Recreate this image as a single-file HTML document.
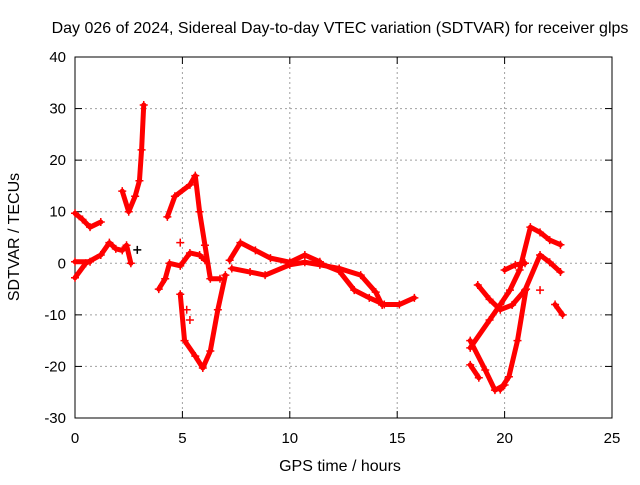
<!DOCTYPE html>
<html><head><meta charset="utf-8"><style>
body{margin:0;background:#fff;font-family:"Liberation Sans",sans-serif}
svg text{font-family:"Liberation Sans",sans-serif;font-size:15px;fill:#000}
svg text.big{font-size:16px}
</style></head><body>
<svg id="c" width="640" height="480" xmlns="http://www.w3.org/2000/svg">
<rect width="640" height="480" fill="#fff"/>
<g id="grid"></g>
<rect x="75" y="57" width="537" height="361" fill="none" stroke="#000" stroke-width="1"/>
<g id="ticks"></g>
<g id="marks"></g>
<text class="big" x="340" y="33" text-anchor="middle">Day 026 of 2024, Sidereal Day-to-day VTEC variation (SDTVAR) for receiver glps</text>
<text class="big" x="340" y="471" text-anchor="middle">GPS time / hours</text>
<text class="big" transform="translate(19,237) rotate(-90)" text-anchor="middle">SDTVAR / TECUs</text>
</svg>
<script>
const xTicks=[0,5,10,15,20,25];
const yTicks=[-30,-20,-10,0,10,20,30,40];
const trackA=[[0,9.7],[0.35,8.5],[0.7,7],[1.2,8]];
const trackB=[[0,-2.8],[0.5,0],[1.2,1.6],[1.6,4],[1.9,2.8],[2.2,2.5],[2.4,3.5],[2.6,0]];
const trackZ=[[0,0.3],[0.7,0.3]];
const trackSpike=[[2.2,14],[2.5,10],[2.8,13],[3.0,16],[3.1,22],[3.2,30.7]];
const trackC=[[3.9,-5],[4.2,-3],[4.4,0],[4.9,-0.5],[5.35,2],[5.8,1.6],[6.05,0.6]];
const trackD=[[4.3,9],[4.65,13],[5.35,15.2],[5.6,17],[5.8,10],[6.05,3.5],[6.3,-3],[6.75,-3]];
const trackE=[[4.9,-6],[5.1,-15],[5.6,-18],[5.95,-20.3],[6.3,-17],[6.65,-9],[7.0,-2.3]];
const trackF=[[7.2,0.6],[7.7,4],[8.4,2.5],[9.1,1],[10,0.2],[10.7,1.6],[11.4,0.3]];
const trackG=[[7.3,-1],[8.15,-1.7],[8.85,-2.3],[10,-0.3],[10.7,0.2],[11.4,-0.3],[12.3,-1],[13.3,-2.3],[14,-5.6],[14.3,-8.1]];
const trackH=[[11.4,0],[12.3,-1.5],[13,-5.2],[13.7,-6.7],[14.4,-8],[15.1,-8],[15.8,-6.7]];
const trackI=[[18.4,-15],[19.1,-20.7],[19.55,-24.6],[20,-23.6]];
const trackJ=[[18.4,-19.7],[18.8,-22.2]];
const trackK=[[18.4,-16.4],[19.3,-11],[19.8,-8],[20.25,-5.2],[20.7,-1.3],[21.2,7],[21.65,6],[22.1,4.5],[22.6,3.6]];
const trackL=[[18.75,-4.2],[19.3,-7],[19.8,-9],[20.35,-8.1],[20.95,-5.2],[21.65,1.6],[22.1,0.2],[22.6,-1.7]];
const trackR=[[21.0,-5],[20.6,-15],[20.2,-22],[19.8,-24.5]];
const trackM=[[20.0,-1.3],[20.5,-0.3],[20.95,0]];
const trackN=[[22.35,-8],[22.7,-10]];
const singles=[[5.35,-11],[21.65,-5.2],[4.9,4],[5.2,-9]];
const blackPts=[[2.9,2.6]];
const X=t=>75+t*537/25, Y=v=>418-(v+30)*361/70;
const NS='http://www.w3.org/2000/svg';
function mk(tag,attrs,parent){const e=document.createElementNS(NS,tag);for(const k in attrs)e.setAttribute(k,attrs[k]);parent.appendChild(e);return e;}
const grid=document.getElementById('grid'),ticks=document.getElementById('ticks'),marks=document.getElementById('marks');
xTicks.forEach(t=>{
 if(t>0&&t<25){const l=mk('line',{x1:X(t),x2:X(t),y1:57,y2:418,stroke:'#a0a0a0','stroke-dasharray':'2,3'},grid);
 
 }
 mk('line',{x1:X(t),x2:X(t),y1:418,y2:411,stroke:'#000'},ticks);
 mk('line',{x1:X(t),x2:X(t),y1:57,y2:64,stroke:'#000'},ticks);
 const tx=mk('text',{x:X(t),y:443,'text-anchor':'middle'},ticks);tx.textContent=t;
 
 
});
yTicks.forEach(v=>{
 if(v>-30&&v<40){const l=mk('line',{x1:75,x2:612,y1:Y(v),y2:Y(v),stroke:'#a0a0a0','stroke-dasharray':'2,3'},grid);
 
 }
 mk('line',{x1:75,x2:82,y1:Y(v),y2:Y(v),stroke:'#000'},ticks);
 mk('line',{x1:605,x2:612,y1:Y(v),y2:Y(v),stroke:'#000'},ticks);
 const tx=mk('text',{x:66,y:Y(v)+5,'text-anchor':'end'},ticks);tx.textContent=v;
 
 
});
const tracks=[trackA,trackB,trackZ,trackSpike,trackC,trackD,trackE,trackF,trackG,trackH,trackI,trackJ,trackK,trackL,trackR,trackM,trackN];
function plus(p,col){const x=X(p[0]),y=Y(p[1]);
 const pa=mk('path',{d:`M${x-4},${y}H${x+4}M${x},${y-4}V${y+4}`,stroke:col,'stroke-width':1.5},marks);
 
 }
tracks.forEach(tr=>{
 const pl=mk('polyline',{points:tr.map(p=>X(p[0])+','+Y(p[1])).join(' '),fill:'none',stroke:'#f00','stroke-width':5,'stroke-linejoin':'round','stroke-linecap':'round'},marks);
 
 
 tr.forEach(p=>plus(p,'#f00'));
});
singles.forEach(p=>plus(p,'#f00'));
blackPts.forEach(p=>plus(p,'#000'));
</script>
</body></html>
